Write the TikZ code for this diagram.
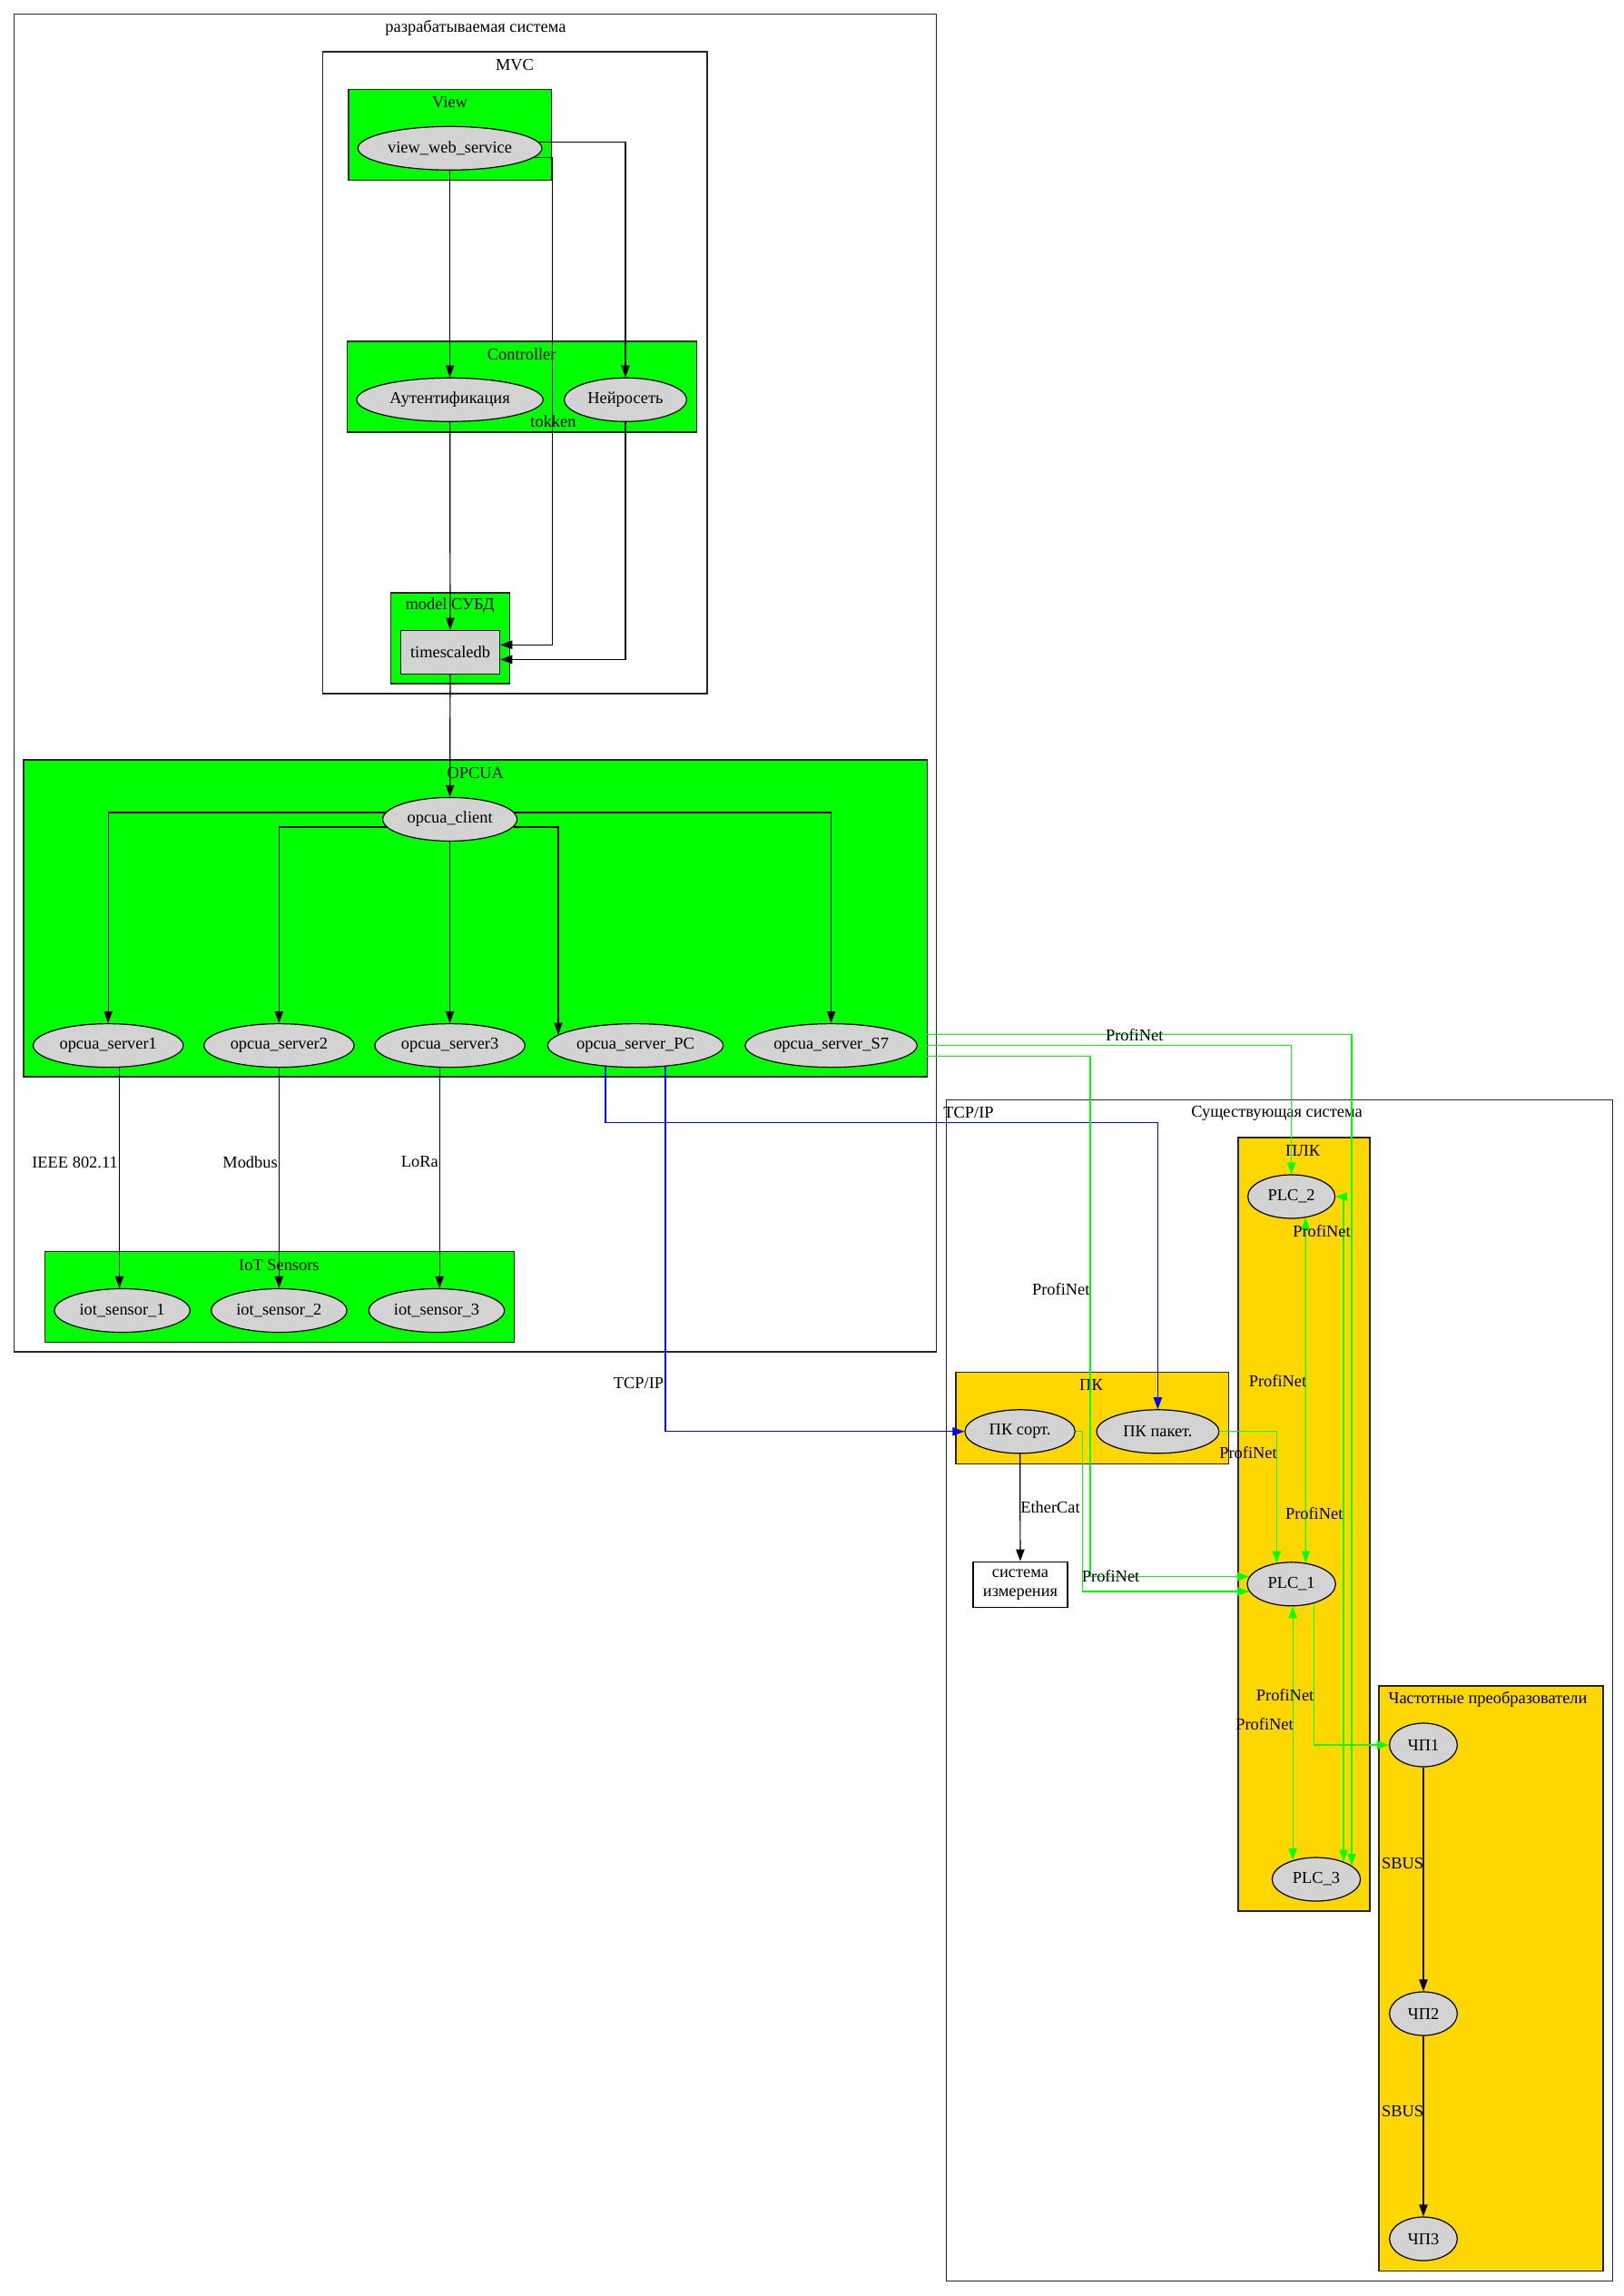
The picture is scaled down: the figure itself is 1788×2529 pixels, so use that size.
\documentclass[tikz,border=0pt]{standalone}
\usepackage{fontspec}
\setmainfont{Liberation Serif}
\usetikzlibrary{shapes.geometric,arrows.meta}
\definecolor{clgreen}{RGB}{0,255,0}
\definecolor{clgold}{RGB}{255,215,0}
\definecolor{nodegray}{RGB}{211,211,211}
\definecolor{pnet}{RGB}{0,255,0}
\definecolor{tcpblue}{RGB}{0,0,255}
\newcommand\gvfont{\fontsize{13.8pt}{15.5pt}\selectfont}

\begin{document}
\begin{tikzpicture}[x=0.75pt,y=-0.75pt,>={Triangle[length=9.75pt,width=7pt]}]
        \tikzstyle{every node}=[font=\gvfont]
        \tikzstyle{proc}=[ellipse,draw,line width=0.9pt,fill=nodegray,inner sep=0pt,minimum height=36pt]
        \tikzstyle{store}=[rectangle,draw,line width=0.9pt,fill=nodegray,inner sep=0pt,minimum height=36pt]
        \tikzstyle{cl}=[draw=black!85,line width=1.1pt]
        \tikzstyle{clg}=[cl,fill=clgreen]
        \tikzstyle{cly}=[cl,fill=clgold]
        \tikzstyle{lbl}=[inner sep=0pt]
        \tikzstyle{edge}=[line width=0.9pt,->]
        \tikzstyle{pn}=[edge,draw=pnet]
        \tikzstyle{tcp}=[edge,draw=tcpblue]
        \fill[white] (0,0) rectangle (1788,2529);
        \useasboundingbox (0,0) rectangle (1788,2529);

        \draw[cl] (15.4,15.3) rectangle (1031.5,1489);
        \draw[cl] (355.7,57.1) rectangle (779,763.8);
        \draw[clg] (383.8,98.5) rectangle (607.5,198.5);
        \draw[clg] (382.5,376) rectangle (767.6,476);
        \draw[clg] (430.7,653) rectangle (561.3,753);
        \draw[clg] (26,836.8) rectangle (1021.4,1186);
        \draw[clg] (49.6,1378.5) rectangle (566.6,1478.5);
        \draw[cl] (1042.5,1211.7) rectangle (1776.4,2512.5);
        \draw[cly] (1364,1253) rectangle (1509,2105);
        \draw[cly] (1052.8,1511.7) rectangle (1353.3,1612.4);
        \draw[cly] (1519,1857) rectangle (1766,2501.7);

        \node[lbl] (tDev) at (524,30.6) {разрабатываемая система};
        \node[lbl] (tMvc) at (567,71.4) {MVC};
        \node[lbl] (tView) at (495.6,112.2) {View};
        \node[lbl] (tCtrl) at (574.7,389.8) {Controller};
        \node[lbl] (tModel) at (495.6,667.3) {model СУБД};
        \node[lbl] (tOpc) at (523.8,851.7) {OPCUA};
        \node[lbl] (tIot) at (307.4,1393.3) {IoT Sensors};
        \node[lbl] (tExist) at (1406.5,1226) {Существующая система};
        \node[lbl] (tPlc) at (1435,1268) {ПЛК};
        \node[lbl] (tPc) at (1202,1525.8) {ПК};
        \node[lbl] (tFc) at (1639,1872) {Частотные преобразователи};

        \node[proc,minimum width=152pt] (vws) at (495.6,163.3) {view\_web\_service};
        \node[proc,minimum width=154pt] (auth) at (495.6,440.3) {Аутентификация};
        \node[proc,minimum width=101pt] (nn) at (689,440.3) {Нейросеть};
        \node[store,minimum width=82pt] (tsdb) at (496,718.3) {timescaledb};
        \node[proc,minimum width=111pt] (client) at (495.6,902.4) {opcua\_client};
        \node[proc,minimum width=124pt] (srv1) at (119.2,1151.6) {opcua\_server1};
        \node[proc,minimum width=124pt] (srv2) at (307.4,1151.6) {opcua\_server2};
        \node[proc,minimum width=124pt] (srv3) at (495.6,1151.6) {opcua\_server3};
        \node[proc,minimum width=145pt] (srvPC) at (700,1151.6) {opcua\_server\_PC};
        \node[proc,minimum width=142pt] (srvS7) at (915.6,1151.6) {opcua\_server\_S7};
        \node[proc,minimum width=112pt] (iot1) at (134.6,1443.5) {iot\_sensor\_1};
        \node[proc,minimum width=112pt] (iot2) at (307.4,1443.5) {iot\_sensor\_2};
        \node[proc,minimum width=112pt] (iot3) at (481,1443.5) {iot\_sensor\_3};
        \node[proc,minimum width=72pt] (plc2) at (1422.6,1318) {PLC\_2};
        \node[proc,minimum width=73pt] (plc1) at (1422.6,1744.8) {PLC\_1};
        \node[proc,minimum width=73pt] (plc3) at (1450,2070) {PLC\_3};
        \node[proc,minimum width=91pt] (pcsort) at (1123.6,1576.8) {ПК сорт.};
        \node[proc,minimum width=101pt] (pcpack) at (1275.4,1576.8) {ПК пакет.};
        \node[rectangle,draw,line width=0.9pt,align=center,inner sep=0pt,minimum width=78pt,minimum height=38pt] (meas) at (1124,1745.5) {система\\измерения};
        \node[proc,minimum width=56pt] (fc1) at (1568,1922) {ЧП1};
        \node[proc,minimum width=56pt] (fc2) at (1568,2218) {ЧП2};
        \node[proc,minimum width=56pt] (fc3) at (1568,2466) {ЧП3};

        \coordinate (tk) at (608.8,710.2);
        \coordinate (opE) at (1021.4,1151.6);
        \coordinate (g3) at (1201,0);
        \coordinate (g4) at (1192.5,0);

        \draw[edge] (vws) -- (auth);
        \draw[edge] (vws.4) -| (nn);
        \draw[edge] (vws.-6) -| (tk) -- (tk -| tsdb.east);
        \draw[edge] (nn) |- ([yshift=-6.1pt]tsdb.east);
        \draw[edge] (auth) -- (tsdb);
        \draw[edge] (tsdb) -- (client);
        \draw[edge] (client.174) -| (srv1);
        \draw[edge] (client.187) -| (srv2);
        \draw[edge] (client) -- (srv3);
        \draw[edge] (client.-7) -| (srvPC.172);
        \draw[edge] (client.6) -| (srvS7);
        \draw[edge] (srv1.-63) -- (srv1.-63 |- iot1.north);
        \draw[edge] (srv2) -- (iot2);
        \draw[edge] (srv3.-115) -- (srv3.-115 |- iot3.north);
        \draw[tcp] (srvPC.-145) -- ++(0,61.6) -| (pcpack);
        \draw[tcp] (srvPC.-35) |- (pcsort);
        \draw[pn] ([yshift=9pt]opE) -| (plc3.21);
        \draw[pn] (opE) -| (plc2);
        \draw[pn] ([yshift=-9pt]opE) -| (g3 |- plc1.170) -- (plc1.170);
        \draw[pn] (pcpack) -| (plc1.125);
        \draw[pn] (pcsort) -| (g4 |- plc1.190) -- (plc1.190);
        \draw[pn,<->] (plc2.-56) -- (plc1.56);
        \draw[pn,<->] (plc1.south -| plc3.141) -- (plc3.141);
        \draw[pn,<->] (plc3.33) |- (plc2.east);
        \draw[pn] (plc1.-40) |- (fc1);
        \draw[edge] (pcsort) -- (meas);
        \draw[edge] (fc1) -- (fc2);
        \draw[edge] (fc2) -- (fc3);

        \node[lbl] (lTok) at (609.5,464.3) {tokken};
        \node[lbl,anchor=east] (lWifi) at (130,1280) {IEEE 802.11};
        \node[lbl,anchor=east] (lMod) at (306,1280) {Modbus};
        \node[lbl,anchor=east] (lLora) at (483,1280) {LoRa};
        \node[lbl,anchor=east] (lTcp1) at (731.4,1523.4) {TCP/IP};
        \node[lbl] (lTcp2) at (1067,1225) {TCP/IP};
        \node[lbl,anchor=west] (lEcat) at (1124,1659.7) {EtherCat};
        \node[lbl,anchor=east] (lSbus1) at (1568.4,2052) {SBUS};
        \node[lbl,anchor=east] (lSbus2) at (1568.4,2325) {SBUS};
        \node[lbl] (lPn1) at (1249.7,1140.6) {ProfiNet};
        \node[lbl] (lPn2) at (1168.8,1419.7) {ProfiNet};
        \node[lbl] (lPn3) at (1456,1355.8) {ProfiNet};
        \node[lbl] (lPn4) at (1407.5,1520.8) {ProfiNet};
        \node[lbl] (lPn5) at (1375,1599.6) {ProfiNet};
        \node[lbl] (lPn6) at (1447.7,1666.7) {ProfiNet};
        \node[lbl] (lPn7) at (1223.6,1735.6) {ProfiNet};
        \node[lbl] (lPn8) at (1415.6,1866.7) {ProfiNet};
        \node[lbl] (lPn9) at (1393,1899) {ProfiNet};
    \end{tikzpicture}
\end{document}
